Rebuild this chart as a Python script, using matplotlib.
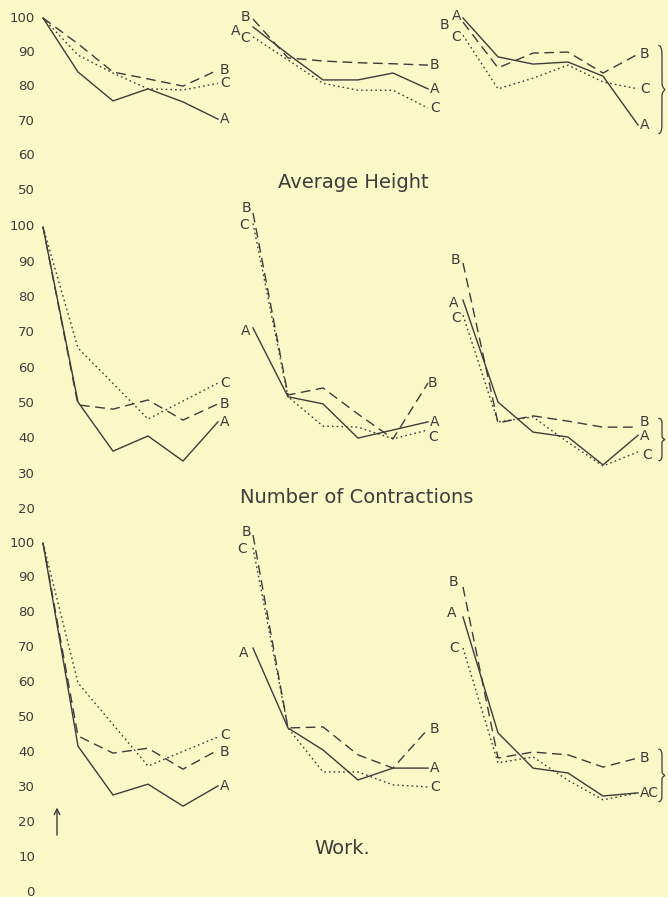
import numpy as np
import matplotlib.pyplot as plt

# three experiments per panel, six readings each, A / B / C
steps = np.arange(6)
names = ['A', 'B', 'C']

height_A = [[100, 84.3, 75.9, 79.4, 75.6, 70.6], [97.4, 89.5, 82, 82, 84, 79.4], [100, 88.7, 86.6, 87.2, 83.1, 68.9]]
height_B = [[100, 92.5, 84.3, 82.3, 80.2, 84.9], [99.7, 88.4, 87.5, 87, 86.7, 86.3], [98.8, 85.5, 89.8, 90.1, 84, 89.5]]
height_C = [[100, 89.2, 84, 79.4, 79.1, 81], [94.5, 87.8, 81, 79, 79, 73.8], [95, 79.4, 82.5, 86.3, 81.4, 79.4]]

contr_A = [[100, 50.4, 36.5, 40.8, 33.7, 44.8], [71.4, 51.9, 49.9, 40.2, 42.5, 44.8], [79.3, 50.4, 41.9, 40.5, 32.6, 41]]
contr_B = [[100, 49.6, 48.4, 51, 45.3, 49.9], [104, 52.4, 54.4, 47, 40, 55.8], [89.8, 44.5, 46.5, 45, 43.3, 43.3]]
contr_C = [[100, 65.7, 55.7, 45.6, 50.7, 55.8], [101, 51.9, 43.6, 43.3, 40, 42.5], [75, 44.8, 46.2, 39, 32.3, 36.3]]

work_A = [[100, 41.8, 27.8, 30.9, 24.6, 30.4], [69.9, 47, 40.7, 32.1, 35.5, 35.5], [78.8, 45.6, 35.5, 34.1, 27.5, 28.4]]
work_B = [[100, 44.7, 39.8, 41.2, 35.2, 40.7], [102.3, 47, 47.3, 39.3, 35.5, 46.7], [87.4, 38.4, 40.1, 39.3, 35.8, 38.4]]
work_C = [[100, 59.9, 48, 36.1, 40.3, 44.4], [98.6, 47, 34.4, 34.4, 30.7, 30.1], [69.9, 37, 38.7, 32, 26.4, 28.4]]

ticks_height = [100, 90, 80, 70, 60, 50]
ticks_contr = [100, 90, 80, 70, 60, 50, 40, 30, 20]
ticks_work = [100, 90, 80, 70, 60, 50, 40, 30, 20, 10, 0]

titles = ['Average Height', 'Number of Contractions', 'Work.']

rows = [
    (height_A, height_B, height_C, ticks_height),
    (contr_A, contr_B, contr_C, ticks_contr),
    (work_A, work_B, work_C, ticks_work),
]

# label nudges in pixels: (row, group, series, end) -> (dx, dy)
nudge = {
    (0, 1, 'A', 0): (-13, -4), (0, 1, 'B', 0): (-3, 2), (0, 1, 'C', 0): (-3, -1),
    (0, 2, 'A', 0): (-2, 2), (0, 2, 'B', 0): (-14, -3), (0, 2, 'C', 0): (-2, -2),
    (1, 1, 'B', 0): (-2, 5), (1, 1, 'C', 0): (-4, -2), (1, 1, 'A', 0): (-3, -3),
    (1, 1, 'B', 1): (0, 0), (1, 1, 'C', 1): (0, -7),
    (1, 2, 'B', 0): (-3, 3), (1, 2, 'A', 0): (-5, -3), (1, 2, 'C', 0): (-2, -3),
    (1, 2, 'B', 1): (2, 5), (1, 2, 'A', 1): (2, -1), (1, 2, 'C', 1): (4, -3),
    (2, 0, 'C', 1): (2, 2), (2, 0, 'B', 1): (2, -2),
    (2, 1, 'B', 0): (-2, 3), (2, 1, 'C', 0): (-6, -1), (2, 1, 'A', 0): (-5, -5),
    (2, 2, 'B', 0): (-5, 5), (2, 2, 'A', 0): (-7, 4), (2, 2, 'C', 0): (-4, 0),
}

styles = {'A': dict(ls='-', lw=1.0),
          'B': dict(ls=(0, (7, 4)), lw=1.0),
          'C': dict(ls=(0, (1.2, 2.2)), lw=1.0)}

ink = '#3c3c3c'
bg = '#fbf8c8'
W, H = 668, 897
# (top px, bottom px, px of value 100, px per unit)
layout = [(0, 200, 18, 3.44), (200, 520, 227, 3.53), (520, 897, 543, 3.49)]
title_pos = [(353, 183), (357, 497), (342, 848)]

fig = plt.figure(figsize=(W / 100, H / 100), dpi=100)
fig.patch.set_facecolor(bg)


def brace(ax, x, y0, y1, w):
    s = np.linspace(0, 1, 300)
    e = np.clip(np.minimum(s, 1 - s) / 0.1, 0, 1)
    f = 0.5 * w * np.sqrt(e * (2 - e))
    f += 0.5 * w * np.clip(1 - np.abs(s - 0.5) / 0.07, 0, 1) ** 2
    ax.plot(x + f, y0 + (y1 - y0) * s, color=ink, lw=0.9, clip_on=False)


for r, (sA, sB, sC, ticks) in enumerate(rows):
    top, bot, y100, k = layout[r]
    ax = fig.add_axes([0, 1 - bot / H, 1, (bot - top) / H])
    ax.set_xlim(-43 / 35, (W - 43) / 35)
    ax.set_ylim(100 - (bot - y100) / k, 100 + (y100 - top) / k)
    ax.axis('off')

    for t in ticks:
        ax.text(-0.23, t, str(t), ha='right', va='center', fontsize=9.5, color=ink)

    data = {'A': sA, 'B': sB, 'C': sC}
    for g in range(3):
        xs = steps + 6 * g
        for n in names:
            vals = data[n][g]
            ax.plot(xs, vals, color=ink, clip_on=False, **styles[n])
            # end label
            txt = n
            if r == 2 and g == 2:
                txt = {'A': 'AC', 'B': 'B', 'C': ''}[n]
            dx, dy = nudge.get((r, g, n, 1), (2, 0))
            ax.annotate(txt, (xs[-1], vals[-1]), xytext=(dx, dy), textcoords='offset pixels',
                        ha='left', va='center', fontsize=10, color=ink)
            if g > 0:
                dx, dy = nudge.get((r, g, n, 0), (-3, 0))
                ax.annotate(n, (xs[0], vals[0]), xytext=(dx, dy), textcoords='offset pixels',
                            ha='right', va='center', fontsize=10, color=ink)

    ends = [data[n][2][-1] for n in names]
    brace(ax, 17.6, max(ends) + 2.5, min(ends) - 2.5, 0.17)

    tx, ty = title_pos[r]
    fig.text(tx / W, 1 - ty / H, titles[r], ha='center', va='center',
             fontsize=14, color=ink)

# little arrow in the bottom panel
ax.annotate('', xy=(0.4, 25), xytext=(0.4, 15.5),
            arrowprops=dict(arrowstyle='->', color=ink, lw=1.0))

fig.savefig('out.png', dpi=100, facecolor=bg)
